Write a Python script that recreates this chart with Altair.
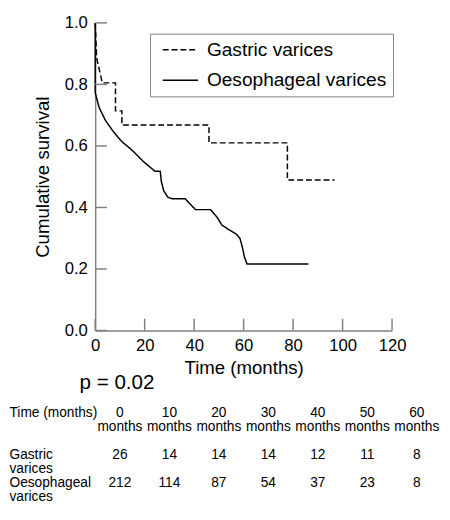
import json
import altair as alt
import pandas as pd

FONT = "Liberation Sans"
AXIS_COLOR = "#808080"

# ---- Kaplan-Meier curves ----
series_names = ["Gastric varices", "Oesophageal varices"]

gastric_months = [0, 0.6, 2.9, 8.2, 8.2, 10.8, 10.8, 46.0, 46.0, 77.7, 77.7, 96.8]
gastric_survival = [1.0, 0.885, 0.805, 0.805, 0.714, 0.714, 0.668, 0.668, 0.61, 0.61, 0.489, 0.489]

oeso_months = [0, 0, 1.6, 4.2, 7.5, 10.8, 14.8, 19.4, 24.1, 26.3, 26.7, 27.7, 29.4, 31.3,
               36.4, 38.5, 40.6, 46.6, 49.2, 51.2, 53.8, 57.1, 58.5, 59.4, 60.4, 61.4, 86.2]
oeso_survival = [1.0, 0.773, 0.725, 0.682, 0.645, 0.614, 0.587, 0.55, 0.518, 0.518, 0.486, 0.454,
                 0.433, 0.428, 0.428, 0.41, 0.393, 0.393, 0.369, 0.343, 0.329, 0.313, 0.300,
                 0.274, 0.237, 0.216, 0.216]

x_ticks = [0, 20, 40, 60, 80, 100, 120]
y_ticks = [0.0, 0.2, 0.4, 0.6, 0.8, 1.0]

# ---- Numbers at risk ----
risk_times = ["0", "10", "20", "30", "40", "50", "60"]
risk_gastric = [26, 14, 14, 14, 12, 11, 8]
risk_oeso = [212, 114, 87, 54, 37, 23, 8]
row_labels = ["Time (months)", "Gastric\nvarices", "Oesophageal\nvarices"]
p_value_text = "p = 0.02"

# ---- build tables ----
curve_df = pd.concat([
    pd.DataFrame({"month": gastric_months, "survival": gastric_survival,
                  "group": series_names[0], "idx": range(len(gastric_months))}),
    pd.DataFrame({"month": oeso_months, "survival": oeso_survival,
                  "group": series_names[1], "idx": range(len(oeso_months))}),
], ignore_index=True)

W, H = 303, 314

x_axis = alt.Axis(values=x_ticks, title="Time (months)", titleFontSize=19,
                  titleFontWeight="normal", titlePadding=6, titleColor="black", titleFont=FONT,
                  labelFontSize=17, labelPadding=7, labelColor="black", labelFlush=False,
                  labelFont=FONT, ticks=False, tickSize=0, grid=False,
                  domainColor=AXIS_COLOR, domainWidth=1.5)
y_axis = alt.Axis(values=y_ticks, format=".1f", title="Cumulative survival",
                  titleFontSize=19, titleFontWeight="normal", titlePadding=12, titleFont=FONT,
                  titleColor="black", labelFontSize=17, labelPadding=8, labelFont=FONT,
                  labelColor="black", ticks=False, tickSize=0, grid=False,
                  domainColor=AXIS_COLOR, domainWidth=1.5)

# legend symbol: a horizontal stroke twice as long as the nominal symbol size
SYM = 18
legend = alt.Legend(title=None, orient="none", legendX=56, legendY=11,
                    strokeColor=AXIS_COLOR, fillColor="white", padding=6.5,
                    symbolType="M-2,0H2", symbolSize=SYM * SYM, symbolStrokeWidth=1.5,
                    symbolStrokeColor="black", symbolOffset=14.5,
                    labelFontSize=19.5, labelOffset=17, labelColor="black", labelLimit=400,
                    rowPadding=11, labelFont=FONT)

lines = alt.Chart(curve_df).mark_line(color="black", strokeWidth=1.5).encode(
    x=alt.X("month:Q", scale=alt.Scale(domain=[0, 120], nice=False), axis=x_axis),
    y=alt.Y("survival:Q", scale=alt.Scale(domain=[0, 1], nice=False), axis=y_axis),
    strokeDash=alt.StrokeDash(
        "group:N",
        scale=alt.Scale(domain=series_names, range=[[6, 3], [1, 0]]),
        legend=legend),
    order="idx:Q",
)

ytick_rules = alt.Chart(pd.DataFrame({"survival": y_ticks})).mark_rule(
    color=AXIS_COLOR, strokeWidth=1.5).encode(
    y=alt.Y("survival:Q", axis=y_axis), x=alt.value(0), x2=alt.value(12))
xtick_rules = alt.Chart(pd.DataFrame({"month": x_ticks})).mark_rule(
    color=AXIS_COLOR, strokeWidth=1.5).encode(
    x=alt.X("month:Q", axis=x_axis), y=alt.value(H - 12), y2=alt.value(H))

top = alt.layer(lines, ytick_rules, xtick_rules).properties(width=W, height=H)

# ---- numbers-at-risk table ----
header_lines = 2
row_line = [0, header_lines + 1, header_lines + 1 + 2]
cells = []
for i, t in enumerate(risk_times):
    cells.append({"col": i, "line": row_line[0], "text": f"{t}\nmonths"})
for i, n in enumerate(risk_gastric):
    cells.append({"col": i, "line": row_line[1], "text": str(n)})
for i, n in enumerate(risk_oeso):
    cells.append({"col": i, "line": row_line[2], "text": str(n)})
table_df = pd.DataFrame(cells)

label_expr = ""
for ln, lbl in zip(row_line[:-1], row_labels[:-1]):
    label_expr += f"datum.value == {ln} ? {json.dumps(lbl.split(chr(10)))} : "
label_expr += json.dumps(row_labels[-1].split("\n"))

LINE_H = 14.3
ncols = len(risk_times)
table = alt.Chart(table_df).mark_text(
    baseline="top", align="center", lineBreak="\n", fontSize=14, lineHeight=LINE_H,
    color="black", font=FONT).encode(
    x=alt.X("col:Q", scale=alt.Scale(domain=[-0.5, ncols - 0.5], nice=False, zero=False), axis=None),
    y=alt.Y("line:Q", scale=alt.Scale(domain=[0, 6], reverse=True, nice=False),
            axis=alt.Axis(values=row_line, labelExpr=label_expr, labelAlign="left",
                          labelBaseline="top", labelPadding=88, ticks=False, tickSize=0,
                          domain=False, grid=False, title=None, labelFontSize=14,
                          labelLineHeight=LINE_H, labelOverlap=False, labelColor="black",
                          labelFont=FONT)),
    text="text:N",
).properties(
    width=ncols * 50.5, height=6 * LINE_H,
    title=alt.TitleParams(p_value_text, anchor="start", frame="group", baseline="alphabetic",
                          offset=13.5, dx=-16, dy=17, fontSize=21, fontWeight="normal",
                          font=FONT, color="black"),
)

chart = alt.vconcat(top, table, spacing=77, bounds="flush").properties(
    padding=0
).configure(font=FONT).configure_view(stroke="transparent")

chart.save("out.html", embed_options={"renderer": "svg", "actions": False})
